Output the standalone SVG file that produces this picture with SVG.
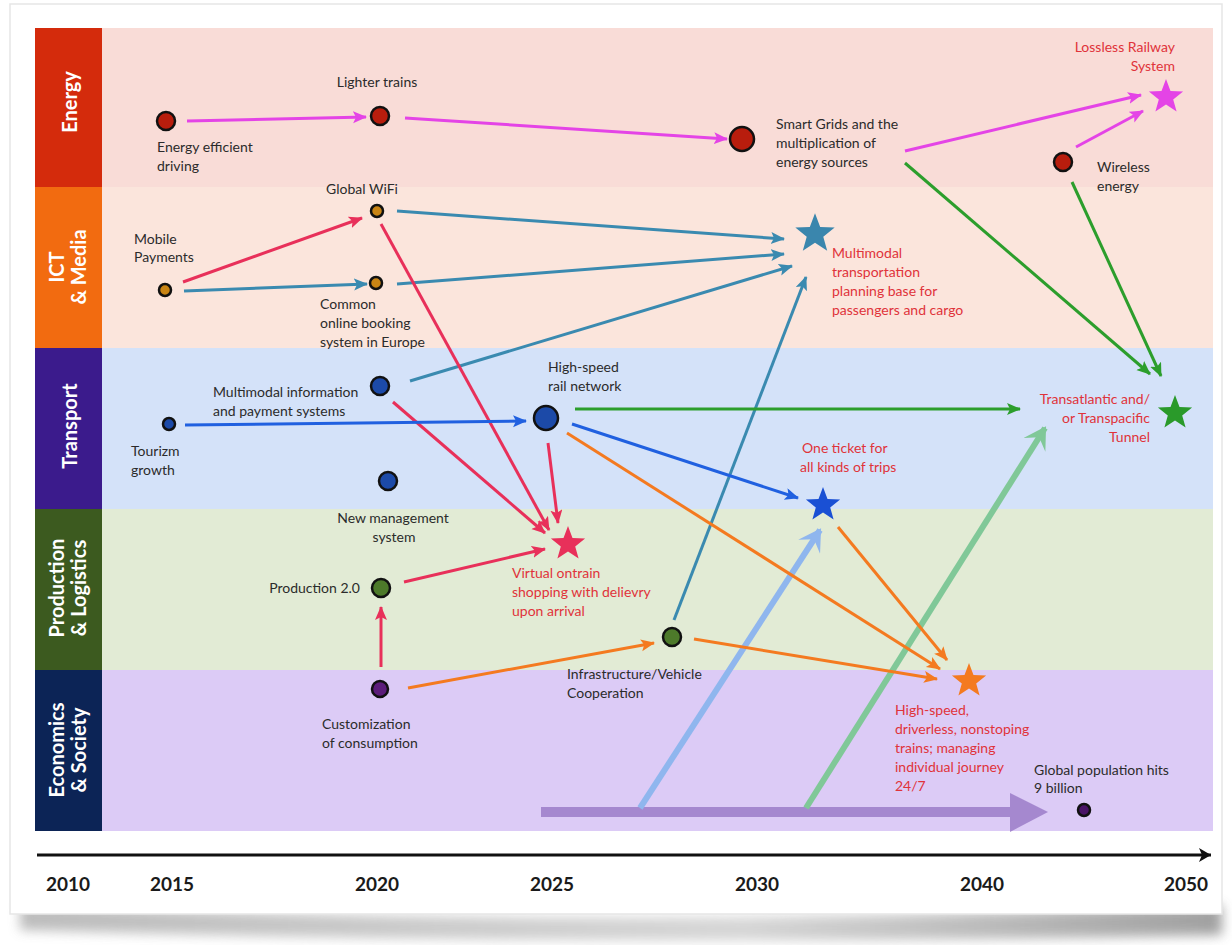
<svg xmlns="http://www.w3.org/2000/svg" xmlns:xlink="http://www.w3.org/1999/xlink" width="1232" height="945" viewBox="0 0 1232 945">
<style>
.lbl{font-family:Lato,"Liberation Sans",sans-serif;font-size:14px;fill:#2b2b2b}
.red{font-family:Lato,"Liberation Sans",sans-serif;font-size:14px;fill:#e0333a}
.lane{font-family:Lato,"Liberation Sans",sans-serif;font-size:20px;font-weight:bold;fill:#ffffff}
.yr{font-family:Lato,"Liberation Sans",sans-serif;font-size:19px;font-weight:bold;fill:#1a1a1a}
.c{fill:none;stroke-width:3}
.dot{stroke:#111;stroke-width:2.5}
</style>
<defs>
<filter id="sh" x="-5%" y="-50%" width="110%" height="200%"><feGaussianBlur stdDeviation="6"/></filter>
<linearGradient id="shg" x1="0" y1="0" x2="1" y2="0"><stop offset="0" stop-color="#b0b0b0"/><stop offset="0.6" stop-color="#cfcfcf"/><stop offset="1" stop-color="#909090"/></linearGradient>
<polygon id="star" points="0,-18 4.5,-6 17.1,-5.6 7.2,2.4 10.6,14.6 0,7.6 -10.6,14.6 -7.2,2.4 -17.1,-5.6 -4.5,-6"/>
<marker id="mM" markerUnits="userSpaceOnUse" markerWidth="16" markerHeight="14" refX="13" refY="6" orient="auto"><path d="M0,0 L14,6 L0,12 L3,6 z" fill="#e444e6"/></marker>
<marker id="mT" markerUnits="userSpaceOnUse" markerWidth="16" markerHeight="14" refX="13" refY="6" orient="auto"><path d="M0,0 L14,6 L0,12 L3,6 z" fill="#3a8ab0"/></marker>
<marker id="mR" markerUnits="userSpaceOnUse" markerWidth="16" markerHeight="14" refX="13" refY="6" orient="auto"><path d="M0,0 L14,6 L0,12 L3,6 z" fill="#e8305a"/></marker>
<marker id="mB" markerUnits="userSpaceOnUse" markerWidth="16" markerHeight="14" refX="13" refY="6" orient="auto"><path d="M0,0 L14,6 L0,12 L3,6 z" fill="#2060e0"/></marker>
<marker id="mG" markerUnits="userSpaceOnUse" markerWidth="16" markerHeight="14" refX="13" refY="6" orient="auto"><path d="M0,0 L14,6 L0,12 L3,6 z" fill="#2c9e2c"/></marker>
<marker id="mO" markerUnits="userSpaceOnUse" markerWidth="16" markerHeight="14" refX="13" refY="6" orient="auto"><path d="M0,0 L14,6 L0,12 L3,6 z" fill="#f47a20"/></marker>
<marker id="mLB" markerUnits="userSpaceOnUse" markerWidth="24" markerHeight="26" refX="20" refY="13" orient="auto"><path d="M0,0 L22,13 L0,26 L9,13 z" fill="#8fb6ee"/></marker>
<marker id="mLG" markerUnits="userSpaceOnUse" markerWidth="24" markerHeight="26" refX="20" refY="13" orient="auto"><path d="M0,0 L22,13 L0,26 L9,13 z" fill="#80c898"/></marker>
<marker id="mAx" markerUnits="userSpaceOnUse" markerWidth="14" markerHeight="14" refX="12" refY="7" orient="auto"><path d="M0,0 L12,7 L0,14 L3,7 z" fill="#111"/></marker>
</defs>

<!-- card -->
<rect width="1232" height="945" fill="#ffffff"/>
<path d="M20,905 Q616,930 1222,905 L1222,935 Q616,948 20,930 Z" fill="url(#shg)" filter="url(#sh)" opacity="0.85"/>
<rect x="10" y="4" width="1212" height="910" fill="#ffffff" stroke="#e6e6e6" stroke-width="1.5"/>

<!-- lanes -->
<g id="lanes">
<rect x="102" y="28" width="1111" height="159" fill="#f9dcd7"/>
<rect x="102" y="187" width="1111" height="161" fill="#fbe5dc"/>
<rect x="102" y="348" width="1111" height="161" fill="#d4e2f9"/>
<rect x="102" y="509" width="1111" height="161" fill="#e2ebd5"/>
<rect x="102" y="670" width="1111" height="161" fill="#dccbf6"/>
<rect x="35" y="28" width="67" height="159" fill="#d42b0c"/>
<rect x="35" y="187" width="67" height="161" fill="#f26b10"/>
<rect x="35" y="348" width="67" height="161" fill="#3b1b8c"/>
<rect x="35" y="509" width="67" height="161" fill="#3c5a1f"/>
<rect x="35" y="670" width="67" height="161" fill="#0c2456"/>
<text class="lane" text-anchor="middle" transform="translate(77,102) rotate(-90)">Energy</text>
<text class="lane" text-anchor="middle" transform="translate(75,267) rotate(-90)"><tspan x="0" y="-11">ICT</tspan><tspan x="0" y="11">&amp; Media</tspan></text>
<text class="lane" text-anchor="middle" transform="translate(77,426) rotate(-90)">Transport</text>
<text class="lane" text-anchor="middle" transform="translate(75,588) rotate(-90)"><tspan x="0" y="-11">Production</tspan><tspan x="0" y="11">&amp; Logistics</tspan></text>
<text class="lane" text-anchor="middle" transform="translate(75,750) rotate(-90)"><tspan x="0" y="-11">Economics</tspan><tspan x="0" y="11">&amp; Society</tspan></text>
</g>

<!-- axis -->
<g id="axis">
<line x1="37" y1="855" x2="1211" y2="855" stroke="#111" stroke-width="3" marker-end="url(#mAx)"/>
<text class="yr" x="68" y="891" text-anchor="middle">2010</text>
<text class="yr" x="172" y="891" text-anchor="middle">2015</text>
<text class="yr" x="377" y="891" text-anchor="middle">2020</text>
<text class="yr" x="552" y="891" text-anchor="middle">2025</text>
<text class="yr" x="757" y="891" text-anchor="middle">2030</text>
<text class="yr" x="982" y="891" text-anchor="middle">2040</text>
<text class="yr" x="1186" y="891" text-anchor="middle">2050</text>
</g>

<!-- connectors -->
<g id="connectors">
<polygon points="541,807 1010,807 1010,793 1048,812 1010,832 1010,817 541,817" fill="#9b7cc8" opacity="0.85"/>
<line x1="640" y1="808" x2="820" y2="530" stroke="#8fb6ee" stroke-width="6" marker-end="url(#mLB)"/>
<line x1="806" y1="808" x2="1045" y2="428" stroke="#80c898" stroke-width="6" marker-end="url(#mLG)"/>

<line class="c" stroke="#e444e6" x1="187" y1="121" x2="366" y2="117" marker-end="url(#mM)"/>
<line class="c" stroke="#e444e6" x1="405" y1="118" x2="727" y2="139" marker-end="url(#mM)"/>
<line class="c" stroke="#e444e6" x1="905" y1="151" x2="1141" y2="95" marker-end="url(#mM)"/>
<line class="c" stroke="#e444e6" x1="1076" y1="147" x2="1143" y2="111" marker-end="url(#mM)"/>

<line class="c" stroke="#3a8ab0" x1="184" y1="291" x2="367" y2="284" marker-end="url(#mT)"/>
<line class="c" stroke="#3a8ab0" x1="397" y1="211" x2="784" y2="239" marker-end="url(#mT)"/>
<line class="c" stroke="#3a8ab0" x1="397" y1="284" x2="784" y2="254" marker-end="url(#mT)"/>
<line class="c" stroke="#3a8ab0" x1="410" y1="381" x2="792" y2="266" marker-end="url(#mT)"/>
<line class="c" stroke="#3a8ab0" x1="674" y1="620" x2="806" y2="277" marker-end="url(#mT)"/>

<line class="c" stroke="#e8305a" x1="183" y1="282" x2="362" y2="218" marker-end="url(#mR)"/>
<line class="c" stroke="#e8305a" x1="381" y1="224" x2="549" y2="530" marker-end="url(#mR)"/>
<line class="c" stroke="#e8305a" x1="393" y1="402" x2="545" y2="533" marker-end="url(#mR)"/>
<line class="c" stroke="#e8305a" x1="548" y1="443" x2="558" y2="523" marker-end="url(#mR)"/>
<line class="c" stroke="#e8305a" x1="404" y1="582" x2="545" y2="549" marker-end="url(#mR)"/>
<line class="c" stroke="#e8305a" x1="381" y1="667" x2="381" y2="607" marker-end="url(#mR)"/>

<line class="c" stroke="#2060e0" x1="185" y1="425" x2="526" y2="421" marker-end="url(#mB)"/>
<line class="c" stroke="#2060e0" x1="572" y1="424" x2="798" y2="498" marker-end="url(#mB)"/>

<line class="c" stroke="#2c9e2c" x1="575" y1="409" x2="1020" y2="409" marker-end="url(#mG)"/>
<line class="c" stroke="#2c9e2c" x1="905" y1="163" x2="1150" y2="374" marker-end="url(#mG)"/>
<line class="c" stroke="#2c9e2c" x1="1072" y1="182" x2="1161" y2="376" marker-end="url(#mG)"/>

<line class="c" stroke="#f47a20" x1="567" y1="433" x2="940" y2="669" marker-end="url(#mO)"/>
<line class="c" stroke="#f47a20" x1="838" y1="527" x2="947" y2="660" marker-end="url(#mO)"/>
<line class="c" stroke="#f47a20" x1="694" y1="639" x2="937" y2="679" marker-end="url(#mO)"/>
<line class="c" stroke="#f47a20" x1="408" y1="688" x2="654" y2="643" marker-end="url(#mO)"/>
</g>

<!-- nodes -->
<g id="n-energy-efficient"><circle class="dot" cx="166" cy="121" r="9" fill="#b81d0d"/><text class="lbl" x="157" y="152">Energy efficient</text><text class="lbl" x="157" y="171">driving</text></g>
<g id="n-lighter-trains"><circle class="dot" cx="380" cy="116" r="9" fill="#b81d0d"/><text class="lbl" x="377" y="87" text-anchor="middle">Lighter trains</text></g>
<g id="n-smart-grids"><circle class="dot" cx="742" cy="139" r="12" fill="#b81d0d"/><text class="lbl" x="776" y="129">Smart Grids and the</text><text class="lbl" x="776" y="148">multiplication of</text><text class="lbl" x="776" y="167">energy sources</text></g>
<g id="n-wireless"><circle class="dot" cx="1063" cy="162" r="9" fill="#b81d0d"/><text class="lbl" x="1097" y="172">Wireless</text><text class="lbl" x="1097" y="191">energy</text></g>
<g id="n-lossless"><use xlink:href="#star" transform="translate(1166,97)" fill="#e444e6"/><text class="red" x="1175" y="52" text-anchor="end">Lossless Railway</text><text class="red" x="1175" y="71" text-anchor="end">System</text></g>

<g id="n-global-wifi"><circle class="dot" cx="377" cy="211" r="6" fill="#c98515"/><text class="lbl" x="362" y="194" text-anchor="middle">Global WiFi</text></g>
<g id="n-mobile-payments"><circle class="dot" cx="165" cy="290" r="6" fill="#c98515"/><text class="lbl" x="134" y="244">Mobile</text><text class="lbl" x="134" y="262">Payments</text></g>
<g id="n-common-booking"><circle class="dot" cx="376" cy="283" r="6" fill="#c98515"/><text class="lbl" x="320" y="309">Common</text><text class="lbl" x="320" y="328">online booking</text><text class="lbl" x="320" y="347">system in Europe</text></g>
<g id="n-multimodal-planning"><use xlink:href="#star" transform="translate(815,234) scale(1.15)" fill="#3a86ad"/><text class="red" x="832" y="258">Multimodal</text><text class="red" x="832" y="277">transportation</text><text class="red" x="832" y="296">planning base for</text><text class="red" x="832" y="315">passengers and cargo</text></g>

<g id="n-tourizm"><circle class="dot" cx="169" cy="424" r="6" fill="#1c4aa8"/><text class="lbl" x="131" y="456">Tourizm</text><text class="lbl" x="131" y="475">growth</text></g>
<g id="n-multimodal-info"><circle class="dot" cx="380" cy="386" r="9" fill="#1c4aa8"/><text class="lbl" x="213" y="397">Multimodal information</text><text class="lbl" x="213" y="416">and payment systems</text></g>
<g id="n-hs-rail"><circle class="dot" cx="546" cy="418" r="12" fill="#1c4aa8"/><text class="lbl" x="548" y="372">High-speed</text><text class="lbl" x="548" y="391">rail network</text></g>
<g id="n-new-management"><circle class="dot" cx="388" cy="481" r="9" fill="#1c4aa8"/><text class="lbl" x="393" y="523" text-anchor="middle">New management</text><text class="lbl" x="394" y="542" text-anchor="middle">system</text></g>
<g id="n-one-ticket"><use xlink:href="#star" transform="translate(823,505)" fill="#1a50d4"/><text class="red" x="802" y="453">One ticket for</text><text class="red" x="800" y="472">all kinds of trips</text></g>
<g id="n-transatlantic"><use xlink:href="#star" transform="translate(1175,413)" fill="#2a9a2a"/><text class="red" x="1150" y="404" text-anchor="end">Transatlantic and/</text><text class="red" x="1150" y="423" text-anchor="end">or Transpacific</text><text class="red" x="1150" y="442" text-anchor="end">Tunnel</text></g>

<g id="n-production"><circle class="dot" cx="381" cy="588" r="9" fill="#4d7a2a"/><text class="lbl" x="360" y="593" text-anchor="end">Production 2.0</text></g>
<g id="n-virtual-shopping"><use xlink:href="#star" transform="translate(568,544)" fill="#e8305a"/><text class="red" x="512" y="578">Virtual ontrain</text><text class="red" x="512" y="597">shopping with delievry</text><text class="red" x="512" y="616">upon arrival</text></g>
<g id="n-infrastructure"><circle class="dot" cx="672" cy="637" r="9" fill="#4d7a2a"/><text class="lbl" x="567" y="679">Infrastructure/Vehicle</text><text class="lbl" x="567" y="698">Cooperation</text></g>

<g id="n-customization"><circle class="dot" cx="380" cy="689" r="8" fill="#5c1d7a"/><text class="lbl" x="322" y="729">Customization</text><text class="lbl" x="322" y="748">of consumption</text></g>
<g id="n-hs-driverless"><use xlink:href="#star" transform="translate(969,681)" fill="#f47a20"/><text class="red" x="895" y="715">High-speed,</text><text class="red" x="895" y="734">driverless, nonstoping</text><text class="red" x="895" y="753">trains; managing</text><text class="red" x="895" y="772">individual journey</text><text class="red" x="895" y="791">24/7</text></g>
<g id="n-global-pop"><circle class="dot" cx="1084" cy="810" r="6" fill="#4a1466"/><text class="lbl" x="1034" y="775">Global population hits</text><text class="lbl" x="1034" y="793">9 billion</text></g>
</svg>
